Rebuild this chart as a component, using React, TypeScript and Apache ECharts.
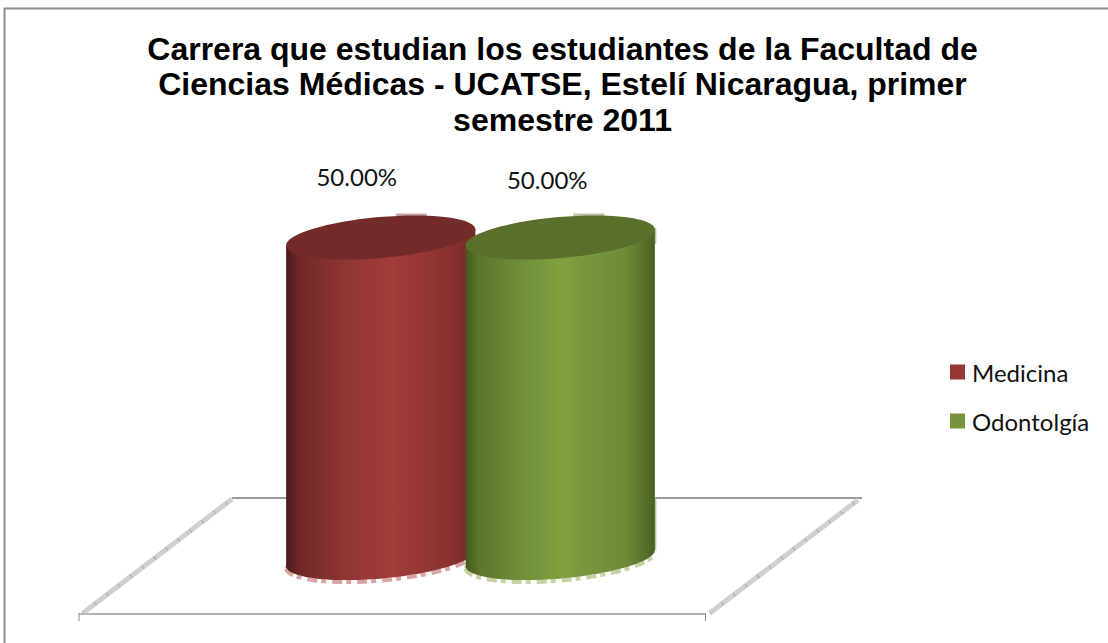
import React, { useEffect, useRef } from "react";
import * as echarts from "echarts";

const titleText = "Carrera que estudian los estudiantes de la Facultad de\nCiencias Médicas - UCATSE, Estelí Nicaragua, primer\nsemestre 2011";
const categories = ["Medicina", "Odontolgía"];
const medicinaValues = [50, null];
const odontologiaValues = [null, 50];

const RX = 95;
const RY = 20.5;
const TILT = (5.1 * Math.PI) / 180;
const DX = RX * Math.cos(TILT);
const DY = RX * Math.sin(TILT);

function lowerArc(cx: number, cy: number) {
  const parts: string[] = [];
  for (let i = 0; i <= 48; i++) {
    const t = Math.PI - (Math.PI * i) / 48;
    const ex = RX * Math.cos(t);
    const ey = RY * Math.sin(t);
    const x = cx + ex * Math.cos(TILT) + ey * Math.sin(TILT);
    const y = cy - ex * Math.sin(TILT) + ey * Math.cos(TILT);
    parts.push(`L ${x.toFixed(2)} ${y.toFixed(2)}`);
  }
  return parts.join(" ");
}

function cylinder(palette: any) {
  return (params: any, api: any) => {
    const idx = api.value(0);
    const top = api.coord([idx, api.value(1)]);
    const base = api.coord([idx, 0]);
    const cx = top[0];
    const by = base[1];
    const ty = top[1];
    const body = `M ${cx - DX} ${ty + DY} ${lowerArc(cx, by)} L ${cx + DX} ${ty - DY} Z`;
    const slivers = (palette.slivers || []).map((s: number[]) => ({
      type: "rect",
      shape: { x: cx + DX - 0.5, y: s[0], width: 2, height: s[1] - s[0] },
      style: { fill: palette.sliver },
    }));
    return {
      type: "group",
      children: [
        {
          type: "rect",
          shape: { x: cx + palette.tab, y: ty - 24, width: 31, height: 5 },
          style: { fill: palette.tabFill },
        },
        ...slivers,
        {
          type: "path",
          shape: { pathData: `M ${cx - DX} ${by + DY + 2} ${lowerArc(cx, by + 2)}` },
          style: { fill: "none", stroke: palette.rim, lineWidth: 4, lineDash: [10, 4, 5, 6] },
        },
        {
          type: "path",
          shape: { pathData: body },
          style: {
            fill: new echarts.graphic.LinearGradient(0, 0, 1, 0, [
              { offset: 0, color: palette.dark },
              { offset: 0.07, color: palette.dim },
              { offset: 0.3, color: palette.body },
              { offset: palette.peak, color: palette.light },
              { offset: 0.85, color: palette.body2 },
              { offset: 1, color: palette.edge },
            ]),
          },
        },
        {
          type: "ellipse",
          x: cx,
          y: ty,
          rotation: TILT,
          shape: { cx: 0, cy: 0, rx: RX, ry: RY },
          style: { fill: palette.top },
        },
        {
          type: "text",
          x: cx + palette.labelDx,
          y: palette.labelY,
          style: {
            text: `${api.value(1).toFixed(2)}%`,
            fontFamily: "Lato",
            fontSize: 24,
            fill: "#111",
            textAlign: "center",
            textVerticalAlign: "middle",
          },
        },
      ],
    };
  };
}

const red = { dark: "#4a1a19", dim: "#6e2927", body: "#8e3533", light: "#a13d3b", body2: "#8a3331", edge: "#722a28", top: "#722b29", rim: "#d9a5a4", tabFill: "#c4a6a5", tab: 15, labelDx: -24, labelY: 176, peak: 0.56 };
const green = { dark: "#45591f", dim: "#5c752c", body: "#708f3a", light: "#80a040", body2: "#6d8a38", edge: "#4b6024", top: "#5b6f2d", rim: "#c5d3a2", sliver: "#b9c4a4", tabFill: "#bcc6a8", tab: 13, labelDx: -13, labelY: 179, peak: 0.5, slivers: [[228, 244], [498, 550]] };

function floorLine(x1: number, y1: number, x2: number, y2: number, stroke: string, lineWidth: number, lineDash?: number[]) {
  return { type: "line", silent: true, shape: { x1, y1, x2, y2 }, style: { stroke, lineWidth, lineDash }, z: 0 };
}

export default function App() {
  const ref = useRef<HTMLDivElement>(null);
  useEffect(() => {
    const chart = echarts.init(ref.current!, undefined, { renderer: "svg" });
    chart.setOption({
      animation: false,
      backgroundColor: "#fff",
      title: {
        text: titleText,
        left: 557.5,
        top: 26,
        textAlign: "center",
        textStyle: { fontFamily: "Liberation Sans", fontWeight: "bold", fontSize: 32, lineHeight: 35.5, color: "#000" },
      },
      legend: {
        orient: "vertical",
        left: 945,
        top: 355,
        icon: "rect",
        itemWidth: 15,
        itemHeight: 15,
        itemGap: 25,
        selectedMode: false,
        textStyle: { fontFamily: "Lato", fontSize: 24, color: "#111", padding: [0, 0, 0, 2] },
        data: categories,
      },
      grid: { left: 291, width: 359, top: 237.5, height: 320.5 },
      xAxis: { type: "category", data: categories, show: false },
      yAxis: { type: "value", min: 0, max: 50, show: false },
      graphic: [
        { type: "polyline", silent: true, shape: { points: [[4.5, 643], [4.5, 8.5], [1108, 8.5]] }, style: { fill: "none", stroke: "#8c8c8c", lineWidth: 2 }, z: 0 },
        floorLine(232, 498, 862, 498, "#9a9a9a", 2),
        floorLine(79, 614, 706, 614, "#b4b4b4", 2),
        floorLine(83, 613, 232, 499, "#d0d0d0", 5),
        floorLine(710, 613, 858, 500, "#d0d0d0", 5),
        floorLine(83, 613, 232, 499, "#a8a8a8", 4, [1, 14]),
        floorLine(710, 613, 858, 500, "#a8a8a8", 4, [1, 14]),
        floorLine(79, 613, 79, 621, "#8c8c8c", 1),
        floorLine(705.5, 613, 705.5, 621, "#8c8c8c", 1),
      ],
      series: [
        {
          name: "Medicina",
          type: "custom",
          data: medicinaValues.map((v, i) => [i, v]).filter((d) => d[1] !== null),
          itemStyle: { color: "#953735" },
          renderItem: cylinder(red),
          z: 3,
        },
        {
          name: "Odontolgía",
          type: "custom",
          data: odontologiaValues.map((v, i) => [i, v]).filter((d) => d[1] !== null),
          itemStyle: { color: "#77933c" },
          renderItem: cylinder(green),
          z: 4,
        },
      ],
    });
    return () => chart.dispose();
  }, []);
  return <div ref={ref} style={{ position: "fixed", left: 0, top: 0, width: 1108, height: 643 }} />;
}
